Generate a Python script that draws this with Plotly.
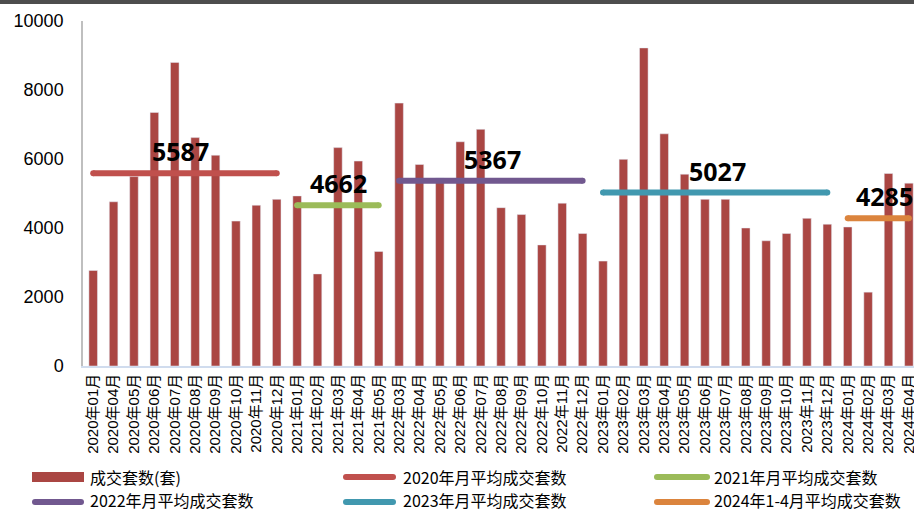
import plotly.graph_objects as go

months = ["2020年01月", "2020年04月", "2020年05月", "2020年06月", "2020年07月", "2020年08月",
          "2020年09月", "2020年10月", "2020年11月", "2020年12月",
          "2021年01月", "2021年02月", "2021年03月", "2021年04月", "2021年05月",
          "2022年03月", "2022年04月", "2022年05月", "2022年06月", "2022年07月", "2022年08月",
          "2022年09月", "2022年10月", "2022年11月", "2022年12月",
          "2023年01月", "2023年02月", "2023年03月", "2023年04月", "2023年05月", "2023年06月",
          "2023年07月", "2023年08月", "2023年09月", "2023年10月", "2023年11月", "2023年12月",
          "2024年01月", "2024年02月", "2024年03月", "2024年04月"]

deals = [2770, 4760, 5490, 7350, 8800, 6620, 6110, 4200, 4660, 4830,
         4930, 2670, 6330, 5940, 3320,
         7620, 5840, 5450, 6500, 6860, 4590, 4390, 3510, 4720, 3840,
         3040, 5990, 9220, 6730, 5560, 4830, 4830, 4000, 3630, 3840, 4280, 4110,
         4030, 2140, 5580, 5300]

bar_name = "成交套数(套)"
bar_color = "#AA4643"
avg_names = ["2020年月平均成交套数", "2021年月平均成交套数", "2022年月平均成交套数",
             "2023年月平均成交套数", "2024年1-4月平均成交套数"]
avg_values = [5587, 4662, 5367, 5027, 4285]
avg_prefix = ["2020", "2021", "2022", "2023", "2024"]
avg_colors = ["#C0504D", "#9BBB59", "#71588F", "#4198AF", "#DB843D"]
label_offsets = [4.3, 2.05, 4.6, 5.6, 1.8]  # label position relative to first month of span

fig = go.Figure()
fig.add_trace(go.Bar(x=months, y=deals, name=bar_name, marker_color=bar_color,
                     width=0.42, showlegend=False))

for name, val, pre, col in zip(avg_names, avg_values, avg_prefix, avg_colors):
    xs = [m for m in months if m.startswith(pre)]
    sizes = [0] * len(xs)
    sizes[0] = sizes[-1] = 6  # rounded line ends
    fig.add_trace(go.Scatter(x=xs, y=[val] * len(xs), mode="lines+markers", name=name,
                             line=dict(color=col, width=6),
                             marker=dict(color=col, size=sizes, line_width=0, opacity=1),
                             showlegend=False))

for val, pre, off in zip(avg_values, avg_prefix, label_offsets):
    first = next(i for i, m in enumerate(months) if m.startswith(pre))
    fig.add_annotation(x=first + off, y=val, text=f"<b>{val}</b>", showarrow=False,
                       yshift=22, font=dict(family="Noto Sans", size=25, color="#000000"))

# plot area in pixels: x 83..914, y 21..366
PL, PR, PT, PB = 83, 914, 21, 366
def px(x):
    return (x - PL) / (PR - PL)
def py(y):
    return (PB - y) / (PB - PT)

# top border band
fig.add_shape(type="rect", xref="paper", yref="paper", x0=px(-5), x1=px(920),
              y0=py(4), y1=py(0), fillcolor="#4D4D4D", line_width=0, layer="above")

# legend (drawn manually, 3 columns x 2 rows)
legend_names = [bar_name] + avg_names
legend_colors = [bar_color] + avg_colors
col_sym = [(32, 84), (343, 396), (654, 710)]
col_txt = [89, 402, 713]
row_y = [477, 502]
for i, (nm, c) in enumerate(zip(legend_names, legend_colors)):
    r, k = divmod(i, 3)
    x0, x1 = col_sym[k]
    yc = row_y[r]
    if i == 0:
        fig.add_shape(type="rect", xref="paper", yref="paper", x0=px(x0), x1=px(x1),
                      y0=py(yc + 5), y1=py(yc - 5), fillcolor=c, line_width=0)
    else:
        fig.add_shape(type="line", xref="paper", yref="paper", x0=px(x0 + 3), x1=px(x1 - 3),
                      y0=py(yc), y1=py(yc), line=dict(color=c, width=6))
        for xe in (x0 + 3, x1 - 3):
            fig.add_shape(type="circle", xref="paper", yref="paper",
                          x0=px(xe - 3), x1=px(xe + 3), y0=py(yc + 3), y1=py(yc - 3),
                          fillcolor=c, line_width=0)
    fig.add_annotation(xref="paper", yref="paper", x=px(col_txt[k]), y=py(yc - 2 * r),
                       xanchor="left", yanchor="middle", text=nm, showarrow=False,
                       borderpad=0,
                       font=dict(family="Noto Sans CJK SC", size=16, color="#000000"))

fig.update_layout(
    width=914, height=512,
    margin=dict(l=PL, r=0, t=PT, b=512 - PB),
    paper_bgcolor="white", plot_bgcolor="white",
    showlegend=False,
    font=dict(family="Liberation Sans, Noto Sans CJK SC", color="#000000"),
)
fig.update_xaxes(type="category", range=[-0.5, 40.25], showline=True, linecolor="#D0DCEE",
                 linewidth=1.5, tickangle=-90, ticks="", showgrid=False, automargin=False,
                 tickfont=dict(family="Liberation Sans, Noto Sans CJK SC", size=15, color="#000000"))
fig.update_yaxes(range=[0, 10000], dtick=2000, tickformat="d", showline=True,
                 linecolor="#BFBFBF", linewidth=1.5, ticks="", showgrid=False, zeroline=False,
                 ticklabelstandoff=14, automargin=False,
                 tickfont=dict(family="Liberation Sans", size=18, color="#000000"))

fig.write_html("out.html")
